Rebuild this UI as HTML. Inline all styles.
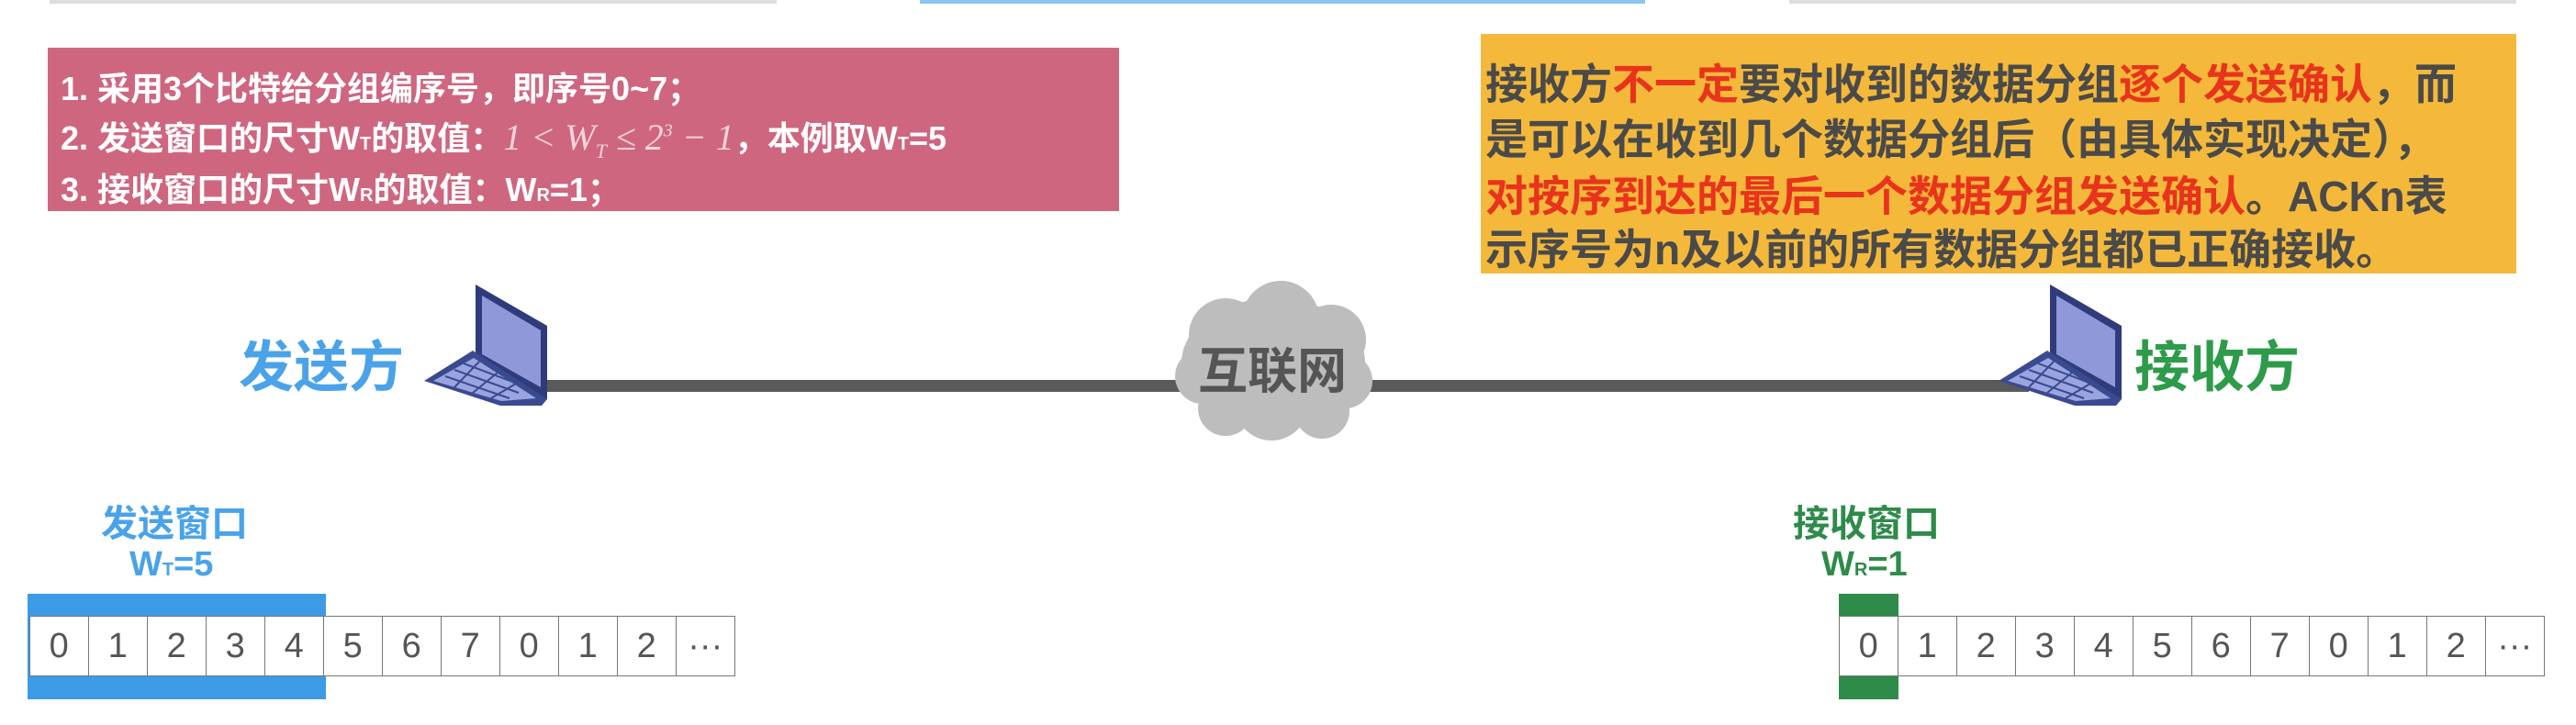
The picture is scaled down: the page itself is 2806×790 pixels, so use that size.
<!DOCTYPE html>
<html><head><meta charset="utf-8"><style>
body{margin:0;width:2806px;height:790px;background:#fff;position:relative;overflow:hidden;font-family:"Liberation Sans","Noto Sans CJK SC",sans-serif;}
.a{position:absolute;white-space:nowrap;}
.pk{left:52px;top:52px;width:1167px;height:178px;background:#cf6680;}
.pt{color:#fff;font-weight:bold;font-size:36px;left:66px;}
.ob{left:1613px;top:37px;width:1128px;height:261px;background:#f4b93a;}
.ot{color:#4a4a4a;font-weight:bold;font-size:46px;left:1618px;}
.r{color:#e8341c}
.cells{position:absolute;display:flex;}
.cells div{width:63.5px;height:64px;border:1.5px solid #777;margin-left:-1.5px;background:#fff;color:#555;font-size:38px;text-align:center;line-height:64px;}
</style></head><body>
<div class="a" style="left:54px;top:0;width:792px;height:4px;background:#ddd"></div>
<div class="a" style="left:1002px;top:0;width:790px;height:4px;background:#8cc6ee"></div>
<div class="a" style="left:1949px;top:0;width:792px;height:4px;background:#ddd"></div>

<div class="a pk"></div>
<div class="a pt" style="top:68px">1. 采用3个比特给分组编序号，即序号0~7；</div>
<div class="a pt" style="top:122px">2. 发送窗口的尺寸W<span style="font-size:20px">T</span>的取值：<span style="font-family:'Liberation Serif',serif;font-style:italic;font-weight:normal;color:#f3d3dc;font-size:40px">1 &lt; W<sub style="font-size:22px">T</sub> ≤ 2<sup style="font-size:20px">3</sup> − 1</span>，本例取W<span style="font-size:20px">T</span>=5</div>
<div class="a pt" style="top:178px">3. 接收窗口的尺寸W<span style="font-size:20px">R</span>的取值：W<span style="font-size:20px">R</span>=1；</div>

<div class="a ob"></div>
<div class="a ot" style="top:56px">接收方<span class="r">不一定</span>要对收到的数据分组<span class="r">逐个发送确认</span>，而</div>
<div class="a ot" style="top:116px">是可以在收到几个数据分组后（由具体实现决定），</div>
<div class="a ot" style="top:178px"><span class="r">对按序到达的最后一个数据分组发送确认</span>。ACKn表</div>
<div class="a ot" style="top:236px">示序号为n及以前的所有数据分组都已正确接收。</div>

<div class="a" style="left:590px;top:414px;width:1620px;height:13px;background:#5a5a5a"></div>
<svg class="a" style="left:1275px;top:300px" width="225" height="190" viewBox="0 0 225 190">
<g fill="#bdbdbd"><ellipse cx="112" cy="95" rx="100" ry="70"/><circle cx="60" cy="65" r="40"/><circle cx="120" cy="48" r="42"/><circle cx="175" cy="70" r="38"/><circle cx="35" cy="110" r="30"/><circle cx="190" cy="115" r="30"/><circle cx="110" cy="140" r="40"/><circle cx="60" cy="145" r="30"/><circle cx="165" cy="148" r="30"/></g></svg>
<div class="a" style="left:1305px;top:360px;font-size:54px;font-weight:bold;color:#555">互联网</div>

<svg class="a" style="left:460px;top:310px" width="140" height="132" viewBox="0 0 140 132">
<polygon points="58,0 136,45 136,125 58,80" fill="#2f3b7a"/><polygon points="65,12 129,50 129,112 65,76" fill="#8f98d8"/>
<polygon points="2,105 55,72 136,125 130,132 85,132" fill="#3a4a90"/><polygon points="12,105 56,80 124,124 86,127" fill="#9aa5e0"/>
<g stroke="#3a4a90" stroke-width="2"><line x1="25" y1="100" x2="95" y2="124"/><line x1="35" y1="93" x2="105" y2="118"/><line x1="45" y1="86" x2="114" y2="112"/><line x1="35" y1="112" x2="62" y2="84"/><line x1="55" y1="118" x2="82" y2="96"/><line x1="75" y1="124" x2="102" y2="108"/></g></svg>
<div class="a" style="left:260px;top:352px;font-size:60px;font-weight:bold;color:#4aa3e8">发送方</div>

<svg class="a" style="left:2175px;top:310px" width="140" height="132" viewBox="0 0 140 132">
<polygon points="58,0 136,45 136,125 58,80" fill="#2f3b7a"/><polygon points="65,12 129,50 129,112 65,76" fill="#8f98d8"/>
<polygon points="2,105 55,72 136,125 130,132 85,132" fill="#3a4a90"/><polygon points="12,105 56,80 124,124 86,127" fill="#9aa5e0"/>
<g stroke="#3a4a90" stroke-width="2"><line x1="25" y1="100" x2="95" y2="124"/><line x1="35" y1="93" x2="105" y2="118"/><line x1="45" y1="86" x2="114" y2="112"/><line x1="35" y1="112" x2="62" y2="84"/><line x1="55" y1="118" x2="82" y2="96"/><line x1="75" y1="124" x2="102" y2="108"/></g></svg>
<div class="a" style="left:2325px;top:352px;font-size:60px;font-weight:bold;color:#2e9b4a">接收方</div>

<div class="a" style="left:110px;top:538px;font-size:40px;font-weight:bold;color:#4aa3e8">发送窗口</div>
<div class="a" style="left:141px;top:594px;font-size:38px;font-weight:bold;color:#4aa3e8">W<span style="font-size:20px">T</span>=5</div>
<div class="a" style="left:30px;top:647px;width:325px;height:115px;background:#3d9be6"></div>
<div class="cells" style="left:33px;top:671px"><div>0</div><div>1</div><div>2</div><div>3</div><div>4</div><div>5</div><div>6</div><div>7</div><div>0</div><div>1</div><div>2</div><div>···</div></div>

<div class="a" style="left:1953px;top:538px;font-size:40px;font-weight:bold;color:#2e8b4a">接收窗口</div>
<div class="a" style="left:1984px;top:594px;font-size:38px;font-weight:bold;color:#2e8b4a">W<span style="font-size:20px">R</span>=1</div>
<div class="a" style="left:2003px;top:647px;width:65px;height:115px;background:#2e8b4a"></div>
<div class="cells" style="left:2004px;top:671px"><div>0</div><div>1</div><div>2</div><div>3</div><div>4</div><div>5</div><div>6</div><div>7</div><div>0</div><div>1</div><div>2</div><div>···</div></div>
</body></html>
